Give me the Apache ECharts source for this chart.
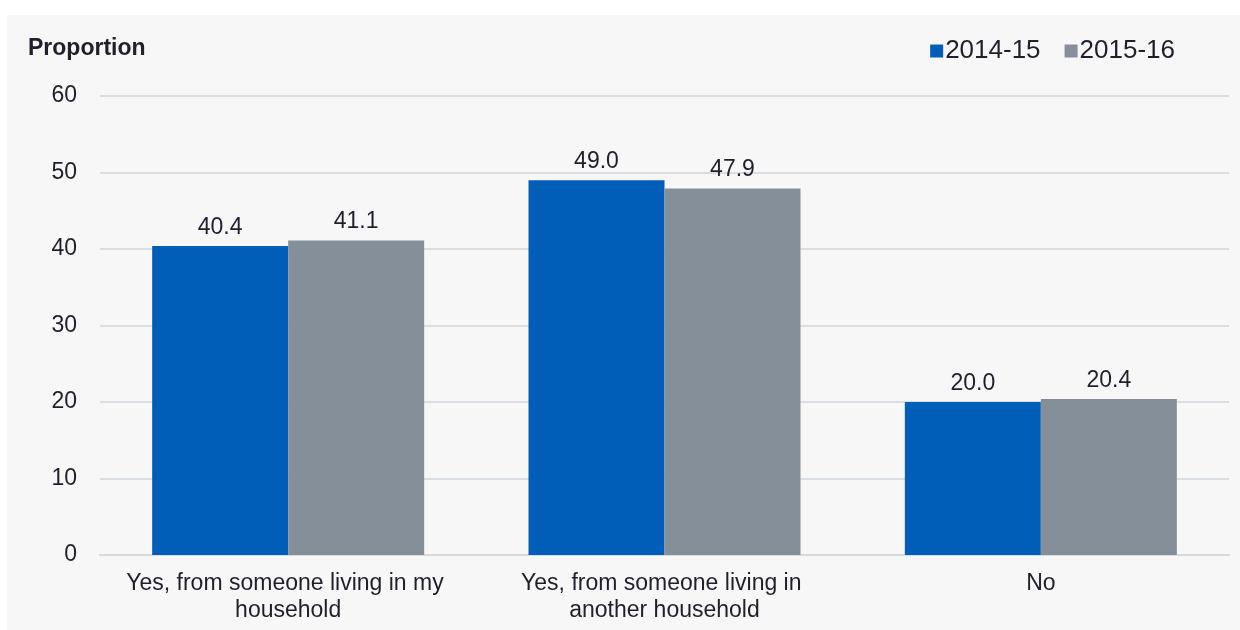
<!DOCTYPE html>
<html>
<head>
<meta charset="utf-8">
<script src="https://cdn.jsdelivr.net/npm/echarts@6/dist/echarts.min.js"></script>
<style>
  html, body { margin: 0; padding: 0; background: #fff; }
  #chart { width: 1240px; height: 630px; }
</style>
</head>
<body>
<div id="chart"></div>
<script>
// data
const categories = ['Yes, from someone living in my household', 'Yes, from someone living in another household', 'No'];
const seriesNames = ['2014-15', '2015-16'];
const values2014 = [40.4, 49.0, 20.0];
const values2015 = [41.1, 47.9, 20.4];
const yTicks = { min: 0, max: 60, interval: 10 };

const textColor = '#1f1f2e';
const font = '"Liberation Sans", Arial, sans-serif';

const chart = echarts.init(document.getElementById('chart'));

const labelStyle = {
    show: true,
    position: 'top',
    distance: 7,
    color: textColor,
    fontSize: 23,
    fontFamily: font,
    formatter: p => p.value.toFixed(1)
};

chart.setOption({
    animation: false,
    graphic: [{
        type: 'rect',
        left: 7, top: 15,
        shape: { width: 1233, height: 615 },
        style: { fill: '#f7f7f7' },
        z: -10
    }, {
        type: 'text',
        left: 28, top: 37,
        style: { text: 'Proportion', fill: textColor, font: 'bold 23px ' + font }
    }],
    legend: {
        top: 33,
        right: 60,
        itemWidth: 13,
        itemHeight: 13,
        itemGap: 24,
        icon: 'rect',
        textStyle: { color: textColor, fontSize: 26, fontFamily: font, padding: [0, 0, 0, -3] },
        data: seriesNames
    },
    grid: { left: 100, right: 11, top: 96, bottom: 75 },
    xAxis: {
        type: 'category',
        data: categories,
        axisTick: { show: false },
        axisLine: { lineStyle: { color: '#d5dadf', width: 2 } },
        axisLabel: {
            color: textColor,
            fontSize: 23,
            fontFamily: font,
            margin: 15,
            lineHeight: 27,
            width: 345,
            overflow: 'break',
            interval: 0
        }
    },
    yAxis: {
        type: 'value',
        min: yTicks.min,
        max: yTicks.max,
        interval: yTicks.interval,
        axisLabel: { color: textColor, fontSize: 23, fontFamily: font, margin: 23 },
        splitLine: { lineStyle: { color: '#dadee2', width: 2 } }
    },
    series: [{
        name: seriesNames[0],
        type: 'bar',
        data: values2014,
        barWidth: 136,
        barGap: '0%',
        itemStyle: { color: '#005eb8' },
        label: labelStyle
    }, {
        name: seriesNames[1],
        type: 'bar',
        data: values2015,
        barWidth: 136,
        itemStyle: { color: '#858f99' },
        label: labelStyle
    }]
});
</script>
</body>
</html>
